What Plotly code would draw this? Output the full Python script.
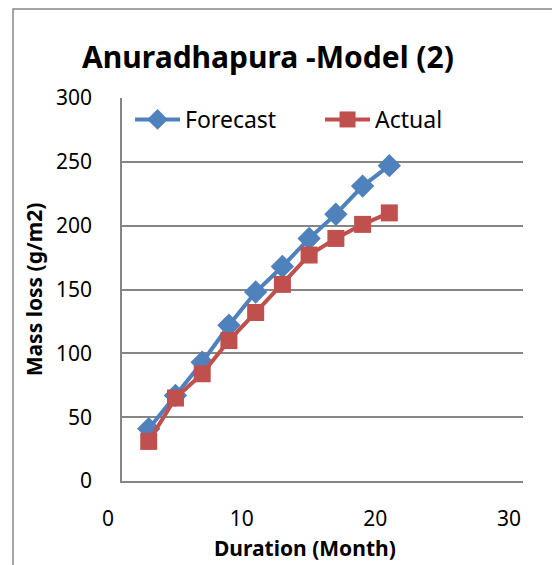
import plotly.graph_objects as go

months = [2, 4, 6, 8, 10, 12, 14, 16, 18, 20]
forecast = [41, 67, 93, 122, 148, 168, 190, 209, 231, 247]
actual = [31, 65, 84, 110, 132, 154, 177, 190, 201, 210]
x_ticks = [0, 10, 20, 30]
y_ticks = [0, 50, 100, 150, 200, 250, 300]

W, H = 552, 565
L, R, T, B = 122, 29, 98, 84
pw, ph = W - L - R, H - T - B

fig = go.Figure()
fig.add_trace(go.Scatter(
    x=months, y=forecast, name="Forecast", mode="lines+markers",
    line=dict(color="#4F81BD", width=4),
    marker=dict(symbol="diamond", size=18, color="#4F81BD"),
))
fig.add_trace(go.Scatter(
    x=months, y=actual, name="Actual", mode="lines+markers",
    line=dict(color="#C0504D", width=4),
    marker=dict(symbol="square", size=17, color="#C0504D"),
))

font = "Noto Sans"
fig.update_layout(
    width=W, height=H,
    margin=dict(l=L, r=R, t=T, b=B),
    paper_bgcolor="white", plot_bgcolor="white",
    font=dict(family=font, color="black", size=21),
    title=dict(text="<b>Anuradhapura -Model (2)</b>", x=268 / W, xanchor="center",
               y=1 - 57 / H, yanchor="middle", font=dict(size=30, family=font)),
    showlegend=True,
    legend=dict(orientation="h", x=0.02, y=1.0, xanchor="left", yanchor="top",
                bgcolor="rgba(0,0,0,0)", font=dict(size=23, family=font),
                itemwidth=45, entrywidth=130, tracegroupgap=0),
    xaxis=dict(range=[0, 30], tickvals=x_ticks, showgrid=False, zeroline=False,
               showline=True, linecolor="#868686", linewidth=1.5, ticks="",
               tickfont=dict(size=21), ticklabelstandoff=18, ticklabelshift=-14),
    yaxis=dict(range=[0, 300], tickvals=y_ticks, showgrid=True,
               gridcolor="#868686", gridwidth=1.5, zeroline=False,
               showline=True, linecolor="#868686", linewidth=1.5, ticks="",
               tickfont=dict(size=21), ticklabelstandoff=24,
               title=dict(text="<b>Mass loss (g/m2)</b>", font=dict(size=21), standoff=8)),
    annotations=[dict(text="<b>Duration (Month)</b>", xref="paper", yref="paper",
                      x=(305 - L) / pw, y=(H - B - 548) / ph, xanchor="center", yanchor="middle",
                      showarrow=False, font=dict(size=21, family=font))],
)

# outer chart border
fig.add_shape(type="rect", xref="paper", yref="paper",
              x0=(13 - L) / pw, x1=(W + 10 - L) / pw,
              y0=(H - B - (H + 10)) / ph, y1=(H - B - 9) / ph,
              line=dict(color="#868686", width=1.5), layer="below")

fig.write_html("out.html")
